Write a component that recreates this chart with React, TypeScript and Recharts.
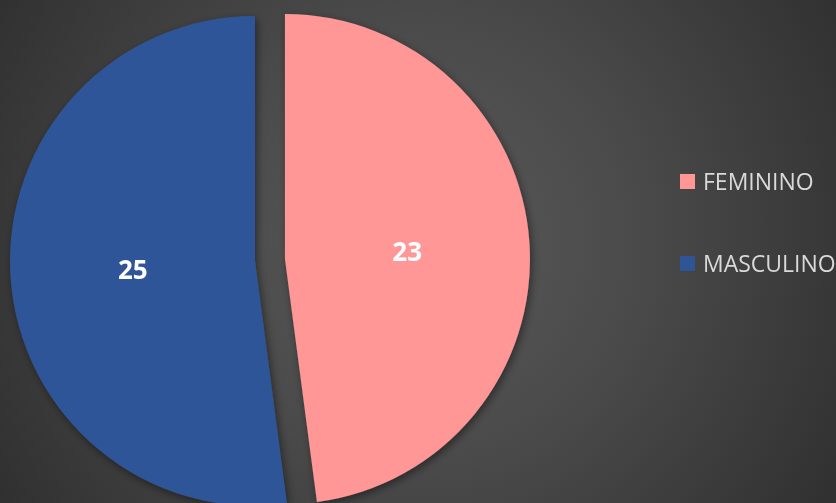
import { PieChart, Pie, Cell, Legend, Sector } from 'recharts';

const categories = ['FEMININO', 'MASCULINO'];
const counts = [23, 25];
const colors = ['#FF9797', '#2F5597'];

const data = categories.map((name, i) => ({ name, value: counts[i] }));

const RAD = Math.PI / 180;
const EXPLODE = 15;

function ExplodedSlice(props: any) {
  const { cx, cy, midAngle, innerRadius, outerRadius, startAngle, endAngle, fill } = props;
  const dx = EXPLODE * Math.cos(-midAngle * RAD);
  const dy = EXPLODE * Math.sin(-midAngle * RAD);
  return (
    <Sector
      cx={cx + dx}
      cy={cy + dy}
      innerRadius={innerRadius}
      outerRadius={outerRadius}
      startAngle={startAngle}
      endAngle={endAngle}
      fill={fill}
      filter="url(#sliceShadow)"
    />
  );
}

function renderLabel(props: any) {
  const { cx, cy, midAngle, outerRadius, value } = props;
  const r = EXPLODE + outerRadius * 0.5;
  const x = cx + r * Math.cos(-midAngle * RAD);
  const y = cy + r * Math.sin(-midAngle * RAD);
  return (
    <text
      x={x}
      y={y}
      fill="#ffffff"
      textAnchor="middle"
      dominantBaseline="central"
      fontFamily="'Open Sans', sans-serif"
      fontWeight={700}
      fontSize={26}
    >
      {value}
    </text>
  );
}

function renderLegend(props: any) {
  const { payload } = props;
  return (
    <div>
      {payload.map((entry: any, i: number) => (
        <div
          key={entry.value}
          style={{
            display: 'flex',
            alignItems: 'center',
            height: 30,
            marginBottom: i === 0 ? 52 : 0,
          }}
        >
          <span
            style={{
              width: 15,
              height: 15,
              background: entry.color,
              display: 'inline-block',
              marginRight: 8,
            }}
          />
          <span
            style={{
              color: '#d9d9d9',
              fontFamily: "'Open Sans', sans-serif",
              fontSize: 23,
              whiteSpace: 'nowrap',
            }}
          >
            {entry.value}
          </span>
        </div>
      ))}
    </div>
  );
}

export default function App() {
  return (
    <div
      style={{
        position: 'fixed',
        left: 0,
        top: 0,
        width: 836,
        height: 503,
        overflow: 'hidden',
        background:
          'radial-gradient(circle farthest-corner at 50% 48%, #5a5a5a 0%, #4a4a4a 45%, #303030 100%)',
      }}
    >
      <PieChart width={836} height={503} margin={{ top: 0, right: 0, bottom: 0, left: 0 }}>
        <defs>
          <filter id="sliceShadow" x="-20%" y="-20%" width="140%" height="140%">
            <feDropShadow dx="2" dy="3" stdDeviation="4" floodColor="#000" floodOpacity="0.45" />
          </filter>
        </defs>
        <Pie
          data={data}
          dataKey="value"
          nameKey="name"
          cx={270}
          cy={260}
          outerRadius={245}
          startAngle={90}
          endAngle={-270}
          stroke="none"
          labelLine={false}
          label={renderLabel}
          shape={ExplodedSlice}
          isAnimationActive={false}
        >
          {data.map((d, i) => (
            <Cell key={d.name} fill={colors[i]} />
          ))}
        </Pie>
        <Legend
          layout="vertical"
          content={renderLegend}
          wrapperStyle={{ left: 680, top: 166, width: 160 }}
        />
      </PieChart>
    </div>
  );
}
